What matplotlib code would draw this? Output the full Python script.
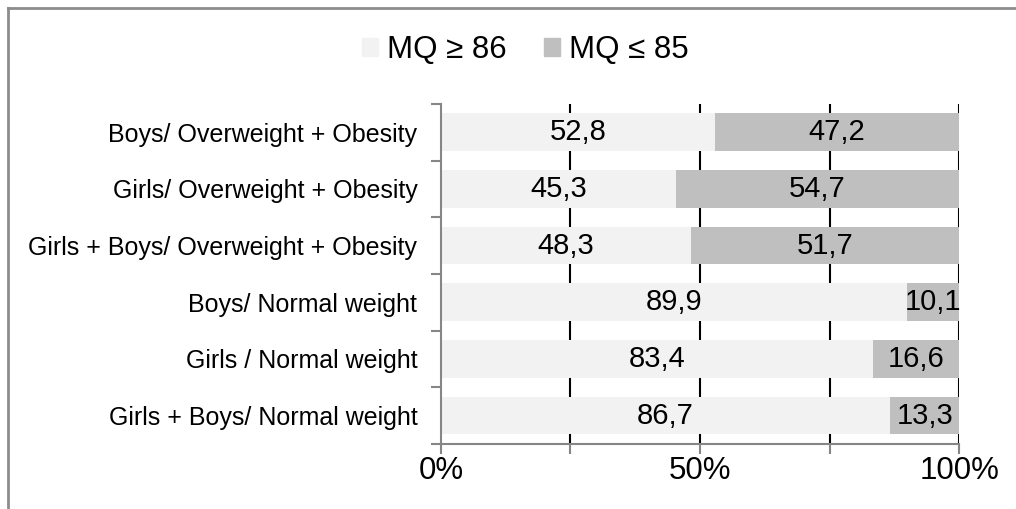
import matplotlib.pyplot as plt
import numpy as np
from matplotlib.patches import Rectangle
from matplotlib.lines import Line2D

plt.rcParams['font.family'] = ['Liberation Sans', 'DejaVu Sans']

# Groups and the share of each MQ class (percent)
groups = ['Boys/ Overweight + Obesity',
          'Girls/ Overweight + Obesity',
          'Girls + Boys/ Overweight + Obesity',
          'Boys/ Normal weight',
          'Girls / Normal weight',
          'Girls + Boys/ Normal weight']
mq_high = [52.8, 45.3, 48.3, 89.9, 83.4, 86.7]
mq_low = [47.2, 54.7, 51.7, 10.1, 16.6, 13.3]
series_names = ['MQ \u2265 86', 'MQ \u2264 85']
colors = ['#F2F2F2', '#BFBFBF']
axis_grey = '#868686'

fig = plt.figure(figsize=(10.16, 5.09), dpi=100)
ax = fig.add_axes([0.434, 0.128, 0.510, 0.668])

y = np.arange(len(groups))
ax.barh(y, mq_high, height=0.67, color=colors[0], zorder=2)
ax.barh(y, mq_low, left=mq_high, height=0.67, color=colors[1], zorder=2)

# value labels centred in each segment
for i in range(len(groups)):
    ax.text(mq_high[i] / 2, y[i], f'{mq_high[i]:.1f}'.replace('.', ','),
            ha='center', va='center', fontsize=21, zorder=3)
    ax.text(mq_high[i] + mq_low[i] / 2, y[i], f'{mq_low[i]:.1f}'.replace('.', ','),
            ha='center', va='center', fontsize=21, zorder=3)

ax.set_xlim(0, 100)
ax.set_ylim(len(groups) - 0.5, -0.5)

# vertical gridlines sit behind the bars
for gx in [25, 50, 75, 100]:
    ax.axvline(gx, color='black', linewidth=1.5, zorder=1)

ax.set_xticks([0, 25, 50, 75, 100])
ax.set_xticklabels(['0%', '', '50%', '', '100%'], fontsize=22.5)
ax.tick_params(axis='x', length=7, width=1.5, color=axis_grey, pad=2)

ax.set_yticks(y)
ax.set_yticklabels(groups, fontsize=18)
ax.tick_params(axis='y', which='major', length=0, pad=17)
ax.set_yticks(np.arange(-0.5, len(groups)), minor=True)
ax.tick_params(axis='y', which='minor', length=7, width=1.5, color=axis_grey)

for side in ['top', 'right']:
    ax.spines[side].set_visible(False)
for side in ['left', 'bottom']:
    ax.spines[side].set_color(axis_grey)
    ax.spines[side].set_linewidth(1.5)

handles = [Rectangle((0, 0), 1, 1, color=c) for c in colors]
fig.legend(handles, series_names, loc='center', bbox_to_anchor=(0.517, 0.902),
           ncol=2, frameon=False, fontsize=22.5, handlelength=0.5, handleheight=0.5,
           handletextpad=0.3, columnspacing=1.2)

# chart area border (top and left edges)
fig.add_artist(Line2D([0.008, 1.0], [0.984, 0.984], transform=fig.transFigure,
                      color='#8C8C8C', linewidth=2))
fig.add_artist(Line2D([0.008, 0.008], [0.0, 0.984], transform=fig.transFigure,
                      color='#8C8C8C', linewidth=2))

fig.savefig('out.png', dpi=100)
